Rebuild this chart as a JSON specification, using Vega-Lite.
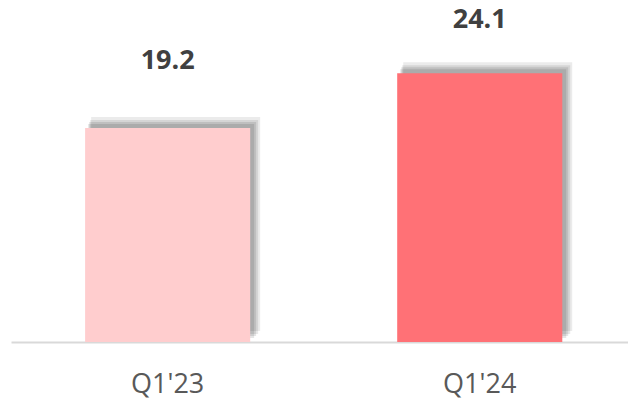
{
  "$schema": "https://vega.github.io/schema/vega-lite/v6.json",
  "width": 617,
  "height": 342,
  "autosize": "none",
  "padding": {"left": 11, "top": 0, "right": 0, "bottom": 58},
  "background": "white",
  "config": {"view": {"stroke": null}},
  "data": {"values": [
    {"quarter": "Q1'23", "value": 19.2},
    {"quarter": "Q1'24", "value": 24.1}
  ]},
  "encoding": {
    "x": {
      "field": "quarter", "type": "nominal", "sort": null,
      "scale": {"paddingInner": 0.471, "paddingOuter": 0.224, "align": 0.53},
      "axis": {
        "title": null, "labelAngle": 0, "domain": true, "domainColor": "#d9d9d9", "domainWidth": 2,
        "ticks": false, "tickSize": 0, "labelPadding": 50, "labelBaseline": "alphabetic",
        "labelFont": "Open Sans", "labelFontSize": 27, "labelColor": "#595959", "grid": false
      }
    },
    "y": {"field": "value", "type": "quantitative", "scale": {"domain": [0, 30.67]}, "axis": null}
  },
  "layer": [
    {"mark": {"type": "bar", "color": "black", "opacity": 0.08, "width": 169, "xOffset": 8, "yOffset": -11, "y2Offset": -2}},
    {"mark": {"type": "bar", "color": "black", "opacity": 0.09, "width": 168, "xOffset": 6.5, "yOffset": -8, "y2Offset": -2}},
    {"mark": {"type": "bar", "color": "black", "opacity": 0.1, "width": 167, "xOffset": 5, "yOffset": -6, "y2Offset": -2}},
    {"mark": {"type": "bar", "color": "black", "opacity": 0.1, "width": 166, "xOffset": 3.5, "yOffset": -4, "y2Offset": -2}},
    {
      "mark": {"type": "bar"},
      "encoding": {
        "color": {"field": "quarter", "type": "nominal", "scale": {"domain": ["Q1'23", "Q1'24"], "range": ["#FFCDCE", "#FF7176"]}, "legend": null}
      }
    },
    {
      "transform": [{"filter": "datum.quarter === \"Q1'23\""}],
      "mark": {"type": "text", "font": "Open Sans", "fontWeight": "bold", "fontSize": 27, "color": "#404040", "baseline": "alphabetic", "dy": -59},
      "encoding": {"text": {"field": "value", "type": "quantitative", "format": ".1f"}}
    },
    {
      "transform": [{"filter": "datum.quarter === \"Q1'24\""}],
      "mark": {"type": "text", "font": "Open Sans", "fontWeight": "bold", "fontSize": 27, "color": "#404040", "baseline": "alphabetic", "dy": -45},
      "encoding": {"text": {"field": "value", "type": "quantitative", "format": ".1f"}}
    }
  ]
}
